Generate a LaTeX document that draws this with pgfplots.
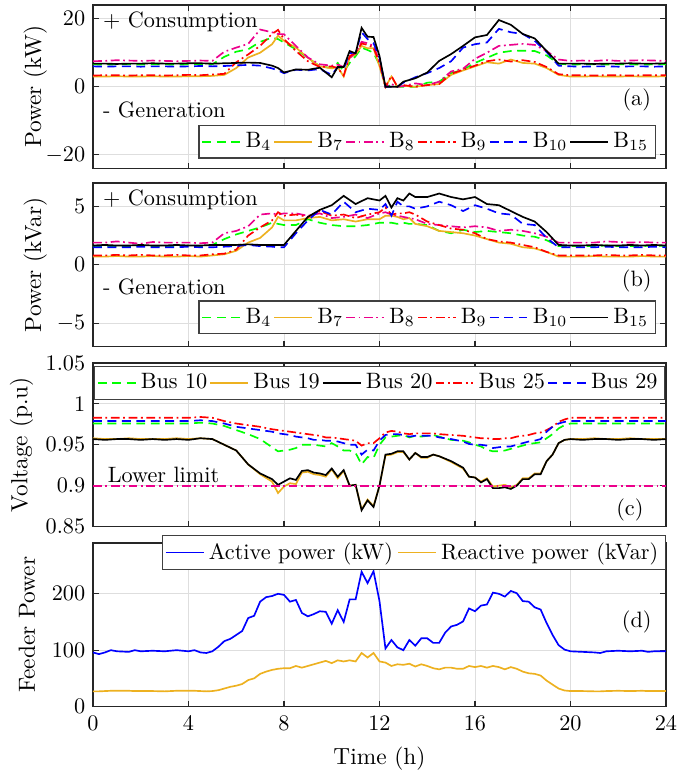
\documentclass[border=0pt]{standalone}
\usepackage{pgfplots}
\usepackage{pgfplotstable}
\pgfplotsset{compat=1.18}
\definecolor{mgreen}{RGB}{0,255,0}
\definecolor{morange}{RGB}{237,177,32}

\pgfplotstableread{
t B4 B7 B8 B9 B10 B15
0.0 6.6 3.0 7.5 3.3 6.0 6.8
0.5 6.5 3.0 7.6 3.4 5.9 6.8
1.0 6.6 3.1 7.8 3.4 6.0 6.7
1.5 6.6 3.0 7.7 3.3 6.0 6.8
2.0 6.5 3.0 7.6 3.4 5.9 6.8
2.5 6.6 3.1 7.7 3.4 6.0 6.9
3.0 6.6 3.0 7.6 3.3 6.0 6.8
3.5 6.5 3.0 7.5 3.4 5.9 6.8
4.0 6.6 3.1 7.6 3.5 6.0 6.9
4.5 6.7 3.1 7.7 3.4 6.1 6.9
5.0 6.6 3.2 7.6 3.6 6.0 6.8
5.5 8.8 3.5 10.3 3.8 6.1 6.9
6.0 10.3 5.5 11.5 7.2 6.3 7.0
6.5 11.0 8.6 12.6 9.5 6.4 7.1
7.0 13.2 10.0 16.8 12.0 6.2 7.0
7.5 14.4 12.5 16.0 15.5 5.4 6.2
7.75 14.0 15.0 15.5 16.7 4.8 5.5
8.0 13.0 13.5 15.4 14.0 4.0 4.2
8.5 11.0 11.5 12.0 10.5 5.0 5.1
9.0 8.5 8.5 8.6 7.5 4.8 5.0
9.5 6.0 6.0 6.6 5.8 5.2 5.6
10.0 5.5 5.4 6.2 6.0 3.5 2.8
10.25 7.0 5.8 6.5 5.5 5.8 5.8
10.5 4.5 3.0 5.8 3.3 5.3 5.8
10.75 7.0 8.5 8.5 9.0 9.9 10.5
11.0 9.0 9.5 10.0 10.0 10.0 9.8
11.25 11.5 12.0 13.2 12.7 16.0 17.3
11.5 10.8 11.3 12.8 12.3 14.0 14.7
11.75 10.0 11.3 12.0 11.5 12.8 14.6
12.0 6.5 6.0 7.5 7.0 8.5 9.0
12.25 0 0 0 0 0 0
12.5 0.5 3.0 0.8 3.2 0 0
12.75 0 0 0 0 0 0
13.0 0 0.3 0.2 0.5 1.2 1.5
13.5 0 0 1.0 0 2.8 2.5
14.0 1.2 0.5 0.5 0.5 4.0 4.2
14.5 1.5 0.8 1.5 0.8 5.5 7.6
15.0 4.0 3.5 4.5 3.8 7.5 9.6
15.5 5.0 4.8 5.3 5.0 11.5 12.0
16.0 7.0 6.0 8.2 6.2 12.5 14.5
16.5 8.5 7.2 10.0 7.5 13.0 15.2
17.0 10.0 6.8 12.0 8.0 17.0 19.6
17.5 10.5 8.0 12.3 7.4 16.0 18.2
18.0 10.6 7.0 12.6 7.8 15.5 15.5
18.5 10.5 6.8 12.3 7.3 13.5 14.2
19.0 9.2 5.5 10.5 5.8 10.2 10.5
19.5 6.8 3.5 8.0 3.7 6.2 6.8
20.0 6.5 3.0 7.6 3.4 6.0 6.8
20.5 6.6 3.0 7.7 3.4 5.9 6.8
21.0 6.6 3.1 7.6 3.3 6.0 6.7
21.5 6.5 3.0 7.8 3.4 6.0 6.8
22.0 6.6 3.0 7.6 3.4 5.9 6.8
22.5 6.6 3.1 7.7 3.3 6.0 6.9
23.0 6.5 3.0 7.8 3.4 6.0 6.8
23.5 6.6 3.0 7.7 3.4 5.9 6.8
24.0 6.6 3.1 7.6 3.4 6.0 6.9
}\tabA

\pgfplotstableread{
t B4 B7 B8 B9 B10 B15
0.0 1.6 0.7 1.9 0.8 1.5 1.65
0.5 1.6 0.7 1.9 0.8 1.5 1.7
1.0 1.6 0.75 2.0 0.85 1.5 1.65
1.5 1.6 0.7 1.9 0.8 1.5 1.65
2.0 1.65 0.7 1.8 0.85 1.55 1.7
2.5 1.6 0.75 1.95 0.8 1.5 1.65
3.0 1.6 0.7 1.9 0.8 1.5 1.65
3.5 1.6 0.7 1.9 0.85 1.5 1.7
4.0 1.65 0.75 1.9 0.8 1.55 1.65
4.5 1.6 0.7 1.85 0.8 1.5 1.65
5.0 1.7 0.8 1.9 0.9 1.5 1.7
5.5 2.2 0.9 2.7 0.95 1.55 1.7
6.0 2.6 1.2 2.9 1.3 1.6 1.7
6.5 2.9 1.9 3.3 2.5 1.7 1.75
7.0 3.2 2.3 4.3 3.2 1.6 1.7
7.5 3.6 3.2 4.4 3.8 1.55 1.7
7.75 3.5 4.1 4.3 4.5 1.5 1.7
8.0 3.4 3.8 4.4 4.2 1.5 1.7
8.5 3.4 3.8 4.4 4.3 2.7 2.9
9.0 3.9 4.0 4.2 4.1 3.8 4.1
9.5 3.6 4.1 4.4 4.6 4.7 4.7
10.0 3.4 3.8 4.0 4.2 4.3 5.1
10.5 3.3 3.9 4.1 4.3 5.4 5.9
11.0 3.3 3.7 4.3 4.0 4.5 5.2
11.5 3.4 3.9 4.0 4.3 4.8 5.7
12.0 3.6 3.9 4.4 4.5 4.7 5.5
12.25 3.6 4.2 4.5 4.9 5.2 5.9
12.5 3.6 4.2 4.3 4.3 4.2 4.9
12.75 3.5 4.1 4.2 4.4 5.4 5.7
13.0 3.6 3.9 4.1 4.4 5.0 5.5
13.25 3.5 4.0 4.0 4.5 5.0 6.1
13.5 3.5 3.5 3.9 4.3 4.8 5.8
14.0 3.4 3.3 3.5 3.7 5.0 5.8
14.5 2.9 2.9 3.4 3.4 5.4 6.1
15.0 2.7 2.8 3.3 3.1 5.1 5.8
15.5 3.0 2.7 3.2 3.0 4.6 5.6
16.0 2.8 2.5 3.3 2.7 5.1 5.8
16.5 2.9 2.2 3.2 2.2 4.8 5.2
17.0 2.8 1.9 2.9 2.0 4.4 5.1
17.5 2.7 1.8 3.0 1.9 4.3 4.6
18.0 2.5 1.5 2.9 1.7 3.5 4.1
18.5 2.4 1.4 2.7 1.5 3.4 3.7
19.0 2.1 1.1 2.4 1.1 2.3 2.8
19.5 1.6 0.7 1.9 0.8 1.5 1.7
20.0 1.6 0.7 1.9 0.8 1.5 1.65
20.5 1.6 0.7 1.9 0.8 1.5 1.65
21.0 1.6 0.75 1.9 0.8 1.5 1.7
21.5 1.65 0.7 2.0 0.85 1.55 1.65
22.0 1.6 0.7 1.95 0.8 1.5 1.65
22.5 1.6 0.7 1.9 0.8 1.5 1.7
23.0 1.6 0.75 1.95 0.85 1.5 1.65
23.5 1.65 0.7 1.9 0.8 1.55 1.7
24.0 1.6 0.7 1.9 0.8 1.5 1.65
}\tabB

\pgfplotstableread{
t V10 V19 V20 V25 V29
0.0 0.976 0.958 0.957 0.983 0.979
0.5 0.976 0.957 0.956 0.983 0.979
1.0 0.976 0.957 0.957 0.983 0.979
1.5 0.976 0.958 0.957 0.983 0.979
2.0 0.976 0.957 0.956 0.983 0.979
2.5 0.976 0.957 0.957 0.983 0.979
3.0 0.976 0.957 0.956 0.983 0.979
3.5 0.976 0.958 0.957 0.983 0.979
4.0 0.976 0.957 0.956 0.983 0.979
4.5 0.977 0.958 0.958 0.984 0.980
5.0 0.976 0.957 0.957 0.983 0.979
5.5 0.973 0.950 0.950 0.979 0.976
6.0 0.968 0.943 0.943 0.976 0.972
6.5 0.963 0.926 0.926 0.974 0.970
7.0 0.957 0.914 0.915 0.972 0.968
7.5 0.947 0.905 0.908 0.969 0.966
7.75 0.942 0.891 0.901 0.968 0.964
8.0 0.943 0.899 0.905 0.967 0.963
8.25 0.944 0.903 0.909 0.966 0.962
8.5 0.946 0.902 0.907 0.965 0.960
8.75 0.950 0.916 0.918 0.964 0.959
9.0 0.950 0.917 0.919 0.963 0.958
9.25 0.950 0.914 0.916 0.962 0.956
9.5 0.949 0.913 0.915 0.961 0.956
9.75 0.948 0.911 0.913 0.959 0.955
10.0 0.952 0.920 0.921 0.959 0.955
10.25 0.948 0.909 0.911 0.958 0.954
10.5 0.943 0.918 0.919 0.957 0.952
10.75 0.943 0.900 0.900 0.956 0.950
11.0 0.940 0.901 0.901 0.955 0.950
11.25 0.926 0.871 0.870 0.949 0.938
11.5 0.935 0.883 0.882 0.952 0.944
11.75 0.934 0.875 0.874 0.952 0.943
12.0 0.950 0.900 0.900 0.958 0.955
12.25 0.959 0.937 0.938 0.965 0.962
12.5 0.960 0.938 0.939 0.967 0.963
12.75 0.961 0.941 0.942 0.966 0.963
13.0 0.962 0.941 0.942 0.964 0.962
13.25 0.959 0.932 0.932 0.963 0.960
13.5 0.961 0.940 0.940 0.964 0.961
13.75 0.960 0.934 0.935 0.964 0.961
14.0 0.961 0.934 0.935 0.964 0.961
14.25 0.962 0.938 0.938 0.964 0.961
14.5 0.960 0.936 0.936 0.963 0.959
15.0 0.956 0.929 0.930 0.962 0.957
15.5 0.955 0.921 0.922 0.961 0.954
15.75 0.953 0.911 0.911 0.960 0.951
16.0 0.950 0.910 0.910 0.959 0.950
16.25 0.948 0.905 0.904 0.958 0.950
16.5 0.944 0.909 0.908 0.958 0.949
16.75 0.942 0.899 0.897 0.957 0.946
17.0 0.942 0.900 0.897 0.957 0.947
17.25 0.943 0.901 0.898 0.958 0.948
17.5 0.945 0.898 0.896 0.958 0.948
17.75 0.947 0.901 0.900 0.960 0.950
18.0 0.949 0.909 0.908 0.961 0.952
18.25 0.951 0.909 0.908 0.962 0.954
18.5 0.952 0.915 0.914 0.964 0.955
18.75 0.953 0.915 0.914 0.965 0.957
19.0 0.958 0.930 0.930 0.968 0.966
19.25 0.963 0.938 0.938 0.972 0.972
19.5 0.970 0.952 0.952 0.978 0.976
19.75 0.974 0.956 0.956 0.981 0.978
20.0 0.976 0.957 0.957 0.983 0.979
20.5 0.976 0.957 0.956 0.983 0.979
21.0 0.976 0.958 0.957 0.983 0.979
21.5 0.976 0.957 0.957 0.983 0.979
22.0 0.976 0.957 0.956 0.983 0.979
22.5 0.976 0.958 0.957 0.983 0.979
23.0 0.976 0.957 0.957 0.983 0.979
23.5 0.976 0.957 0.956 0.983 0.979
24.0 0.976 0.957 0.957 0.983 0.979
}\tabC

\pgfplotstableread{
t P Q
0.0 96 27
0.25 93 27
0.5 96 27.5
0.75 100 28
1.0 98 28
1.5 97 28
1.75 100 27.5
2.0 98 27.5
2.5 99 27.5
3.0 98 27
3.5 100 28
4.0 98 28
4.25 100 28
4.5 96 27.5
4.75 95 27
5.0 98 27.5
5.25 106 29
5.5 116 32
5.75 120 35
6.0 127 37
6.25 134 40
6.5 157 47
6.75 161 50
7.0 186 58
7.25 194 62
7.5 196 65
7.75 200 67
8.0 198 68
8.25 186 68
8.5 189 72
8.75 166 69
9.0 160 72
9.25 164 75
9.5 169 78
9.75 168 81
10.0 147 77
10.25 171 82
10.5 150 80
10.75 190 82
11.0 190 80
11.25 239 95
11.5 219 87
11.75 240 95
12.0 187 80
12.25 103 78
12.5 118 72
12.75 105 75
13.0 100 74
13.25 118 76
13.5 108 71
13.75 121 75
14.0 121 72
14.25 113 68
14.5 113 66
14.75 131 69
15.0 142 69
15.25 145 67
15.5 151 67
15.75 174 72
16.0 169 70
16.25 179 72
16.5 181 69
16.75 202 72
17.0 200 70
17.25 195 66
17.5 205 70
17.75 201 67
18.0 187 62
18.25 186 59
18.5 176 58
18.75 172 55
19.0 148 46
19.25 127 39
19.5 109 32
19.75 101 28.5
20.0 98 27.5
20.5 97 27.5
21.0 96 27
21.25 95 27
21.5 98 27.5
22.0 99 28
22.5 98 27.5
23.0 99 28
23.25 97 27.5
23.5 98 27.5
24.0 98 27.5
}\tabD

\pgfplotsset{
  panel/.style={
    scale only axis, width=257.85pt, height=73.6pt,
    xmin=0, xmax=24, xtick={0,4,...,24},
    grid=major, grid style={black!13, line width=0.4pt},
    tick align=inside, xtick pos=both, ytick pos=both,
    major tick length=2.5pt,
    axis line style={black!85, line width=0.5pt},
    tick style={black!85, line width=0.5pt},
    every axis plot/.append style={line width=0.75pt},
    tick label style={font=\fontsize{10}{12}\selectfont},
    xticklabel style={yshift=-1pt},
    label style={font=\fontsize{10.5}{12}\selectfont},
    ylabel style={inner sep=0pt, anchor=south},
    legend cell align=left,
    legend image code/.code={\draw[line width=0.75pt,#1] (0pt,0pt) -- (17pt,0pt);},
    legend style={draw=black!75, fill=white, line width=0.5pt, inner sep=1.2pt,
      font=\fontsize{10}{12}\selectfont,
      /tikz/every even column/.append style={column sep=-1pt}},
  },
  dashedL/.style={dash pattern=on 4pt off 2.5pt},
  dashdotL/.style={dash pattern=on 4pt off 1.6pt on 0.8pt off 1.6pt},
}

\begin{document}
\begin{tikzpicture}
\useasboundingbox (-41.85pt,2.25pt) rectangle (272.7pt,-346.95pt);

% (a)
\begin{axis}[panel, at={(0pt,0pt)}, anchor=north west,
  ymin=-24, ymax=24, ytick={-20,0,20}, xticklabels={},
  ylabel={Power (kW)},
  ylabel style={at={(axis description cs:-0.0795,0.5)}},
  legend columns=6,
  legend style={at={(0.982,0.061)}, anchor=south east}]
\addplot[mgreen, dashedL] table[x=t,y=B4] {\tabA};
\addlegendentry{B$_4$}
\addplot[morange] table[x=t,y=B7] {\tabA};
\addlegendentry{B$_7$}
\addplot[magenta, dashdotL] table[x=t,y=B8] {\tabA};
\addlegendentry{B$_8$}
\addplot[red, dashdotL] table[x=t,y=B9] {\tabA};
\addlegendentry{B$_9$}
\addplot[blue, dashedL] table[x=t,y=B10] {\tabA};
\addlegendentry{B$_{10}$}
\addplot[black] table[x=t,y=B15] {\tabA};
\addlegendentry{B$_{15}$}
\node[anchor=west, inner sep=0pt] at (rel axis cs:0.017,0.896) {$+$ Consumption};
\node[anchor=west, inner sep=0pt] at (rel axis cs:0.017,0.356) {- Generation};
\node at (rel axis cs:0.949,0.417) {(a)};
\end{axis}

% (b)
\begin{axis}[panel, at={(0pt,-80.1pt)}, anchor=north west,
  ymin=-7, ymax=7, ytick={-5,0,5}, xticklabels={},
  ylabel={Power (kVar)},
  ylabel style={at={(axis description cs:-0.0795,0.5)}},
  legend columns=6,
  legend style={at={(0.982,0.075)}, anchor=south east}]
\addplot[mgreen, dashedL] table[x=t,y=B4] {\tabB};
\addlegendentry{B$_4$}
\addplot[morange] table[x=t,y=B7] {\tabB};
\addlegendentry{B$_7$}
\addplot[magenta, dashdotL] table[x=t,y=B8] {\tabB};
\addlegendentry{B$_8$}
\addplot[red, dashdotL] table[x=t,y=B9] {\tabB};
\addlegendentry{B$_9$}
\addplot[blue, dashedL] table[x=t,y=B10] {\tabB};
\addlegendentry{B$_{10}$}
\addplot[black] table[x=t,y=B15] {\tabB};
\addlegendentry{B$_{15}$}
\node[anchor=west, inner sep=0pt] at (rel axis cs:0.017,0.896) {$+$ Consumption};
\node[anchor=west, inner sep=0pt] at (rel axis cs:0.017,0.362) {- Generation};
\node at (rel axis cs:0.949,0.40) {(b)};
\end{axis}

% (c)
\begin{axis}[panel, at={(0pt,-161.1pt)}, anchor=north west,
  ymin=0.85, ymax=1.05, ytick={0.85,0.9,0.95,1,1.05}, xticklabels={},
  yticklabel style={/pgf/number format/fixed, /pgf/number format/precision=2},
  ylabel={Voltage (p.u)},
  ylabel style={at={(axis description cs:-0.1035,0.5)}},
  legend columns=5,
  legend style={at={(0.5,0.982)}, anchor=north,
    /tikz/every even column/.append style={column sep=-1pt}}]
\addplot[mgreen, dashedL] table[x=t,y=V10] {\tabC};
\addlegendentry{Bus 10}
\addplot[morange] table[x=t,y=V19] {\tabC};
\addlegendentry{Bus 19}
\addplot[black] table[x=t,y=V20] {\tabC};
\addlegendentry{Bus 20}
\addplot[red, dashdotL] table[x=t,y=V25] {\tabC};
\addlegendentry{Bus 25}
\addplot[blue, dashedL] table[x=t,y=V29] {\tabC};
\addlegendentry{Bus 29}
\addplot[magenta, dashdotL, forget plot] coordinates {(0,0.9) (24,0.9)};
\node[anchor=south west, inner sep=0pt] at (axis cs:0.6,0.903) {Lower limit};
\node at (rel axis cs:0.937,0.104) {(c)};
\end{axis}

% (d)
\begin{axis}[panel, at={(0pt,-242.1pt)}, anchor=north west,
  ymin=0, ymax=290, ytick={0,100,200},
  xlabel={Time (h)}, ylabel={Feeder Power},
  xlabel style={yshift=-0.5pt},
  ylabel style={at={(axis description cs:-0.1,0.5)}},
  legend columns=2,
  legend style={at={(1.0,1.049)}, anchor=north east,
    /tikz/every even column/.append style={column sep=0pt}}]
\addplot[blue] table[x=t,y=P] {\tabD};
\addlegendentry{Active power (kW)}
\addplot[morange] table[x=t,y=Q] {\tabD};
\addlegendentry{Reactive power (kVar)}
\node at (rel axis cs:0.949,0.52) {(d)};
\end{axis}
\end{tikzpicture}
\end{document}
